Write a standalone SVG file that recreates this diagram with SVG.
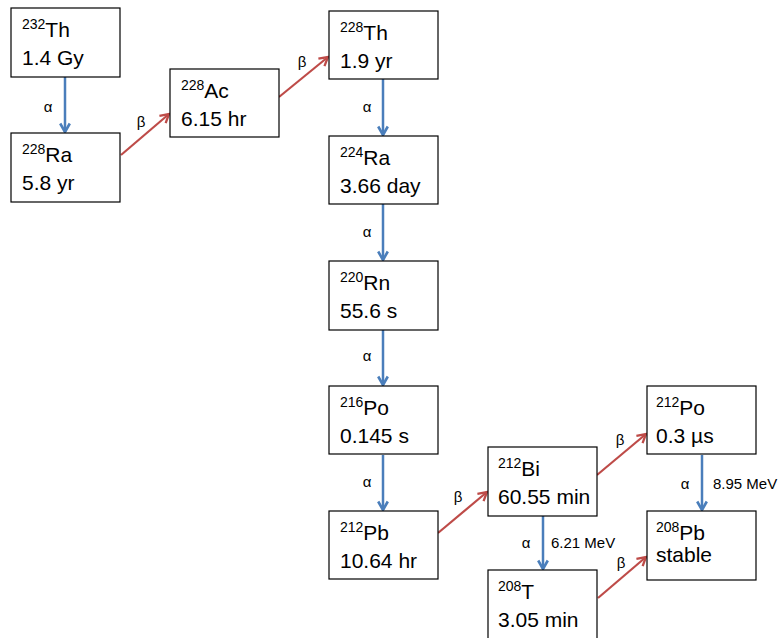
<svg xmlns="http://www.w3.org/2000/svg" width="779" height="638" viewBox="0 0 779 638">
<style>
rect.box{fill:#fff;stroke:#000;stroke-width:1.2}
text{font-family:"Liberation Sans",Arial,sans-serif;fill:#000}
.sup{font-size:14px}
.el{font-size:21px}
.val{font-size:21px}
.lbl{font-size:15px}
.a{stroke:#4A7EBB;stroke-width:2.5;fill:none;marker-end:url(#ha)}
.b{stroke:#BE4B48;stroke-width:2.2;fill:none;marker-end:url(#hb)}
</style>
<defs>
<marker id="ha" viewBox="0 0 12 12" refX="10" refY="6" markerWidth="12" markerHeight="12" markerUnits="userSpaceOnUse" orient="auto">
<path d="M1.5,1.2 L10,6 L1.5,10.8" fill="none" stroke="#4A7EBB" stroke-width="2.6"/>
</marker>
<marker id="hb" viewBox="0 0 12 12" refX="10" refY="6" markerWidth="12" markerHeight="12" markerUnits="userSpaceOnUse" orient="auto">
<path d="M1.5,1.2 L10,6 L1.5,10.8" fill="none" stroke="#BE4B48" stroke-width="2.3"/>
</marker>
</defs>
<g id="connectors">
<line class="a" x1="65" y1="77" x2="65" y2="132"/>
<line class="b" x1="121" y1="155" x2="169" y2="114"/>
<line class="b" x1="279" y1="97" x2="328" y2="57"/>
<line class="a" x1="383" y1="79" x2="383" y2="135"/>
<line class="a" x1="383" y1="204" x2="383" y2="260"/>
<line class="a" x1="383" y1="330" x2="383" y2="385"/>
<line class="a" x1="383" y1="455" x2="383" y2="510"/>
<line class="b" x1="438" y1="533" x2="487" y2="492"/>
<line class="b" x1="597" y1="475" x2="646" y2="434"/>
<line class="a" x1="543" y1="516" x2="543" y2="569"/>
<line class="a" x1="702" y1="455" x2="702" y2="510"/>
<line class="b" x1="598" y1="598" x2="646" y2="557"/>
<text class="lbl" x="48" y="112" text-anchor="middle">α</text>
<text class="lbl" x="141" y="127" text-anchor="middle">β</text>
<text class="lbl" x="302" y="67" text-anchor="middle">β</text>
<text class="lbl" x="367" y="112" text-anchor="middle">α</text>
<text class="lbl" x="367" y="237" text-anchor="middle">α</text>
<text class="lbl" x="367" y="361" text-anchor="middle">α</text>
<text class="lbl" x="367" y="487" text-anchor="middle">α</text>
<text class="lbl" x="458" y="502" text-anchor="middle">β</text>
<text class="lbl" x="620" y="445" text-anchor="middle">β</text>
<text class="lbl" x="526" y="548" text-anchor="middle">α</text>
<text class="lbl" x="551" y="548">6.21 MeV</text>
<text class="lbl" x="685" y="489" text-anchor="middle">α</text>
<text class="lbl" x="713" y="489">8.95 MeV</text>
<text class="lbl" x="621" y="568" text-anchor="middle">β</text>
</g>
<g id="th232"><rect class="box" x="11" y="8" width="109" height="69"/><text x="22" y="29"><tspan class="sup">232</tspan><tspan class="el" dy="8">Th</tspan></text><text class="val" x="22" y="65">1.4 Gy</text></g>
<g id="ra228"><rect class="box" x="11" y="133" width="109" height="69"/><text x="22" y="154"><tspan class="sup">228</tspan><tspan class="el" dy="8">Ra</tspan></text><text class="val" x="22" y="190">5.8 yr</text></g>
<g id="ac228"><rect class="box" x="170" y="69" width="109" height="68"/><text x="181" y="90"><tspan class="sup">228</tspan><tspan class="el" dy="8">Ac</tspan></text><text class="val" x="181" y="126">6.15 hr</text></g>
<g id="th228"><rect class="box" x="329" y="11" width="109" height="68"/><text x="340" y="32"><tspan class="sup">228</tspan><tspan class="el" dy="8">Th</tspan></text><text class="val" x="340" y="68">1.9 yr</text></g>
<g id="ra224"><rect class="box" x="329" y="136" width="109" height="68"/><text x="340" y="157"><tspan class="sup">224</tspan><tspan class="el" dy="8">Ra</tspan></text><text class="val" x="340" y="193">3.66 day</text></g>
<g id="rn220"><rect class="box" x="329" y="261" width="109" height="69"/><text x="340" y="282"><tspan class="sup">220</tspan><tspan class="el" dy="8">Rn</tspan></text><text class="val" x="340" y="318">55.6 s</text></g>
<g id="po216"><rect class="box" x="329" y="386" width="109" height="68"/><text x="340" y="407"><tspan class="sup">216</tspan><tspan class="el" dy="8">Po</tspan></text><text class="val" x="340" y="443">0.145 s</text></g>
<g id="pb212"><rect class="box" x="329" y="511" width="109" height="68"/><text x="340" y="532"><tspan class="sup">212</tspan><tspan class="el" dy="8">Pb</tspan></text><text class="val" x="340" y="568">10.64 hr</text></g>
<g id="bi212"><rect class="box" x="488" y="447" width="109" height="69"/><text x="498" y="468"><tspan class="sup">212</tspan><tspan class="el" dy="8">Bi</tspan></text><text class="val" x="498" y="504">60.55 min</text></g>
<g id="po212"><rect class="box" x="647" y="386" width="109" height="68"/><text x="656" y="407"><tspan class="sup">212</tspan><tspan class="el" dy="8">Po</tspan></text><text class="val" x="656" y="443">0.3 µs</text></g>
<g id="pb208"><rect class="box" x="647" y="511" width="109" height="69"/><text x="656" y="532"><tspan class="sup">208</tspan><tspan class="el" dy="8">Pb</tspan></text><text class="val" x="656" y="562">stable</text></g>
<g id="tl208"><rect class="box" x="488" y="570" width="109" height="69"/><text x="498" y="591"><tspan class="sup">208</tspan><tspan class="el" dy="8">T</tspan></text><text class="val" x="498" y="627">3.05 min</text></g>
</svg>
